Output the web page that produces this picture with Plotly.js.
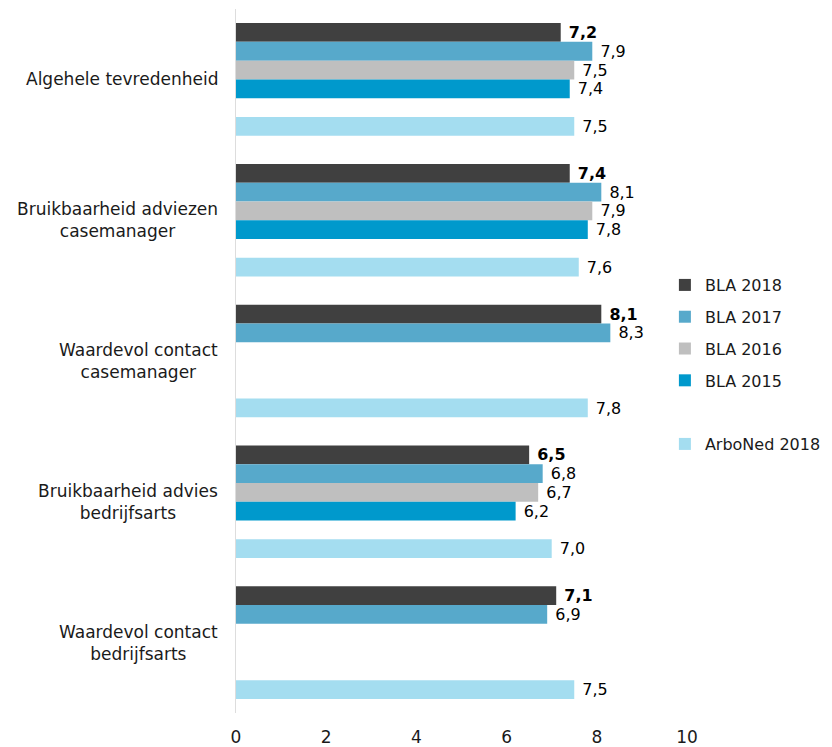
<!DOCTYPE html>
<html><head><meta charset="utf-8">
<script src="https://cdn.plot.ly/plotly-3.0.1.min.js"></script>
<style>body{margin:0;background:#fff}#chart{width:832px;height:747px}</style>
</head><body><div id="chart"></div>
<script>
const categories = ["Algehele tevredenheid", "Bruikbaarheid adviezen<br>casemanager", "Waardevol contact<br>casemanager", "Bruikbaarheid advies<br>bedrijfsarts", "Waardevol contact<br>bedrijfsarts"];
const bla2018 = [7.2, 7.4, 8.1, 6.5, 7.1];
const bla2017 = [7.9, 8.1, 8.3, 6.8, 6.9];
const bla2016 = [7.5, 7.9, null, 6.7, null];
const bla2015 = [7.4, 7.8, null, 6.2, null];
const blank = [null, null, null, null, null];
const arboned2018 = [7.5, 7.6, 7.8, 7.0, 7.5];
const xTicks = [0, 2, 4, 6, 8, 10];

const FONT = "DejaVu Sans, Verdana, sans-serif";
const FS = 17;
function fmt(v, bold) {
  if (v === null) return "";
  const s = v.toFixed(1).replace(".", ",");
  return "\u00a0" + (bold ? "<b>" + s + "</b>" : s);
}
function mk(name, vals, color, bold, group) {
  return {
    type: "bar", orientation: "h", name: name, y: categories, x: vals,
    marker: {color: color},
    text: vals.map(v => fmt(v, bold)), textposition: "outside",
    textfont: {family: FONT, size: FS, color: "#000"},
    cliponaxis: false, legendgroup: group, hoverinfo: "x"
  };
}
const traces = [
  mk("BLA 2018", bla2018, "#404040", true, "a"),
  mk("BLA 2017", bla2017, "#57A9CB", false, "b"),
  mk("BLA 2016", bla2016, "#BFBFBF", false, "c"),
  mk("BLA 2015", bla2015, "#0099CC", false, "d"),
  mk(" ", blank, "rgba(0,0,0,0)", false, "e"),
  mk("ArboNed 2018", arboned2018, "#A4DDF0", false, "f")
];
const annotations = categories.map(c => ({
  xref: "paper", yref: "y", x: -0.035, y: c, xanchor: "right", yanchor: "middle",
  text: c, showarrow: false, align: "center",
  font: {family: FONT, size: FS, color: "#1a1a1a"}
}));
const layout = {
  width: 832, height: 747,
  margin: {l: 236, r: 145, t: 9, b: 34, autoexpand: false},
  paper_bgcolor: "#fff", plot_bgcolor: "#fff",
  barmode: "group", bargap: 0.2, bargroupgap: 0,
  showlegend: true,
  legend: {x: 0.951, xanchor: "left", y: 0.495, yanchor: "middle",
    font: {family: FONT, size: 16, color: "#1a1a1a"}, tracegroupgap: 8,
    bgcolor: "rgba(0,0,0,0)"},
  xaxis: {range: [0, 10], tickvals: xTicks, ticktext: xTicks.map(String),
    showgrid: false, zeroline: false, showline: false,
    ticks: "outside", ticklen: 9, tickcolor: "rgba(0,0,0,0)",
    tickfont: {family: FONT, size: FS, color: "#1a1a1a"}},
  yaxis: {autorange: "reversed", showticklabels: false, showgrid: false,
    showline: true, linecolor: "#DDDDDD", linewidth: 1.5, zeroline: false, ticks: ""},
  annotations: annotations
};
Plotly.newPlot("chart", traces, layout, {displayModeBar: false, staticPlot: true});
</script></body></html>
